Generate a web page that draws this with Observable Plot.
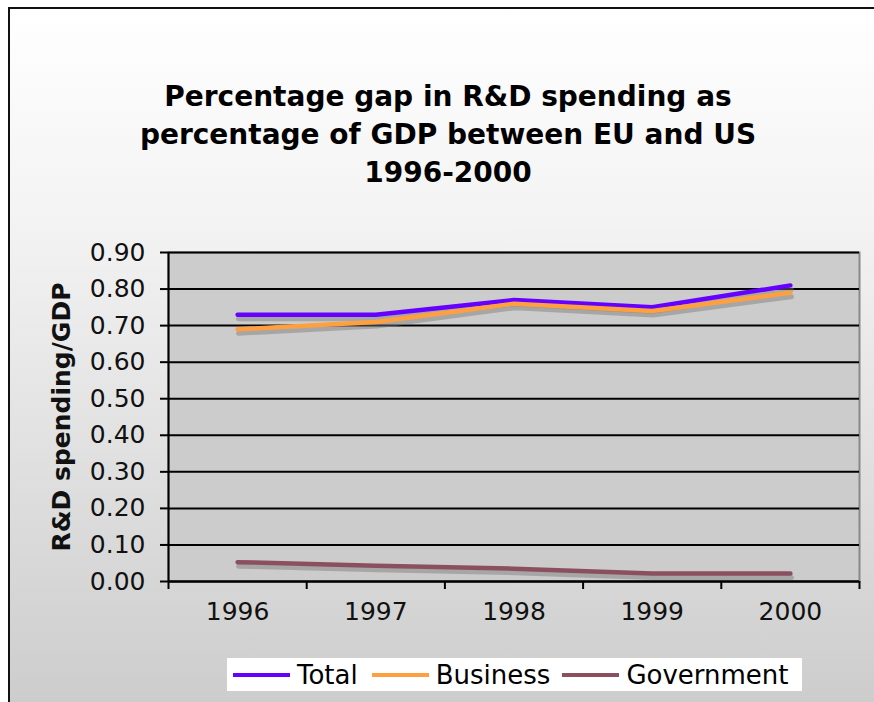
<!DOCTYPE html>
<html>
<head>
<meta charset="utf-8">
<script src="https://cdn.jsdelivr.net/npm/d3@7"></script>
<script src="https://cdn.jsdelivr.net/npm/@observablehq/plot@0.6"></script>
<style>
  html, body { margin: 0; padding: 0; background: #fff; }
  #chart {
    position: relative; width: 874px; height: 702px; overflow: hidden;
    background: #fff;
  }
  #panel {
    position: absolute; left: 8px; top: 7px; right: -10px; bottom: -10px;
    border-left: 2px solid #111; border-top: 2px solid #111;
    background: linear-gradient(#ffffff 0%, #f3f3f3 30%, #cccccc 100%);
  }
  #title {
    position: absolute; left: 0; width: 896px; top: 78px;
    text-align: center; font-family: "DejaVu Sans", Verdana, sans-serif;
    font-weight: bold; font-size: 28px; line-height: 38px; color: #000;
  }
  #plot { position: absolute; left: 0; top: 220px; }
  #plot svg g[aria-label="y-axis label"] text { font-weight: bold; font-size: 25px; }
  #legend {
    position: absolute; left: 227px; top: 658px; width: 575px; height: 33px;
    background: #fff; display: flex; align-items: center;
    font-family: "DejaVu Sans", Verdana, sans-serif; font-size: 26px; color: #000;
  }
  .item { display: flex; align-items: center; margin-left: 6px; }
  .sw { width: 57px; height: 4px; margin-right: 7px; }
</style>
</head>
<body>
<div id="chart">
  <div id="panel"></div>
  <div id="title">Percentage gap in R&amp;D spending as<br>percentage of GDP between EU and US<br>1996-2000</div>
  <div id="plot"></div>
  <div id="legend"></div>
</div>
<script>
const years = [1996, 1997, 1998, 1999, 2000];
const total = [0.73, 0.73, 0.77, 0.75, 0.81];
const business = [0.69, 0.71, 0.76, 0.74, 0.79];
const government = [0.053, 0.043, 0.035, 0.022, 0.022];
const seriesNames = ["Total", "Business", "Government"];
const seriesColors = ["#6600ff", "#ffa040", "#8b5060"];
const yTicks = [0, 0.1, 0.2, 0.3, 0.4, 0.5, 0.6, 0.7, 0.8, 0.9];
const yLabel = "R&D spending/GDP";

const seriesValues = [total, business, government];
const rows = [];
seriesNames.forEach((name, i) => {
  years.forEach((yr, j) => rows.push({series: name, year: yr, value: seriesValues[i][j]}));
});
const boundaries = [years[0] - 0.5, ...years.map(y => y + 0.5)];

const chart = Plot.plot({
  width: 874,
  height: 420,
  marginTop: 32,
  marginLeft: 168,
  marginRight: 15,
  marginBottom: 59,
  style: {background: "transparent", fontFamily: "DejaVu Sans, Verdana, sans-serif", fontSize: "25px", color: "#111"},
  x: {domain: [boundaries[0], boundaries[boundaries.length - 1]]},
  y: {domain: [0, 0.9]},
  color: {domain: seriesNames, range: seriesColors},
  marks: [
    Plot.frame({fill: "#cccccc", stroke: "#888", strokeWidth: 2}),
    Plot.gridY(yTicks, {stroke: "#000", strokeOpacity: 1, strokeWidth: 2}),
    Plot.line(rows, {x: "year", y: "value", z: "series", stroke: "#777", strokeOpacity: 0.45, strokeWidth: 5, dx: 1, dy: 4}),
    Plot.line(rows, {x: "year", y: "value", z: "series", stroke: "series", strokeWidth: 4.5}),
    Plot.ruleX([boundaries[0]], {stroke: "#000", strokeWidth: 2}),
    Plot.ruleY([0], {stroke: "#000", strokeWidth: 2}),
    Plot.axisY(yTicks, {tickSize: 8, tickPadding: 15, tickFormat: d => d.toFixed(2), strokeWidth: 2, stroke: "#000",
      label: yLabel, labelAnchor: "center", labelOffset: 116, labelArrow: false}),
    Plot.axisX(boundaries, {tickSize: 8, tickFormat: () => "", strokeWidth: 2, stroke: "#000", label: null}),
    Plot.axisX(years, {tickSize: 0, tickPadding: 21, tickFormat: d => String(d), label: null})
  ]
});
document.getElementById("plot").appendChild(chart);

const legend = document.getElementById("legend");
const gaps = [6, 14, 12];
seriesNames.forEach((name, i) => {
  const item = document.createElement("div");
  item.className = "item";
  item.style.marginLeft = gaps[i] + "px";
  const sw = document.createElement("div");
  sw.className = "sw";
  sw.style.background = seriesColors[i];
  const t = document.createElement("span");
  t.textContent = name;
  item.appendChild(sw);
  item.appendChild(t);
  legend.appendChild(item);
});
</script>
</body>
</html>
